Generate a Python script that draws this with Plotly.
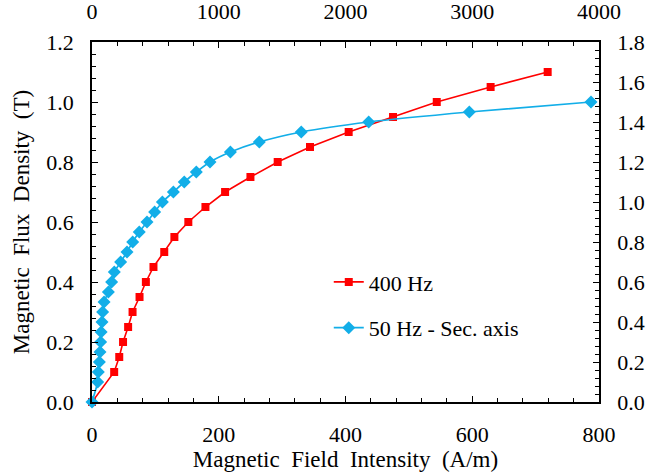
import plotly.graph_objects as go

# 400 Hz magnetisation curve (primary axes)
h_400 = [0, 35, 43, 49, 57, 64, 75, 85, 97, 114, 130, 152, 179, 210, 250, 293,
         344, 405, 475, 544, 629, 719]
b_400 = [0.0, 0.10, 0.15, 0.20, 0.25, 0.30, 0.35, 0.40, 0.45, 0.50, 0.55, 0.60,
         0.65, 0.70, 0.75, 0.80, 0.85, 0.90, 0.95, 1.00, 1.05, 1.10]

# 50 Hz magnetisation curve (secondary axes)
h_50 = [0, 45, 50, 58, 63, 68, 72, 79, 84, 95, 129, 155, 176, 226, 276, 321, 373,
        434, 494, 555, 642, 728, 823, 931, 1092, 1320, 1651, 2183, 2977, 3937]
b_50 = [0.0, 0.10, 0.15, 0.20, 0.25, 0.30, 0.35, 0.40, 0.45, 0.50, 0.55, 0.60,
        0.65, 0.70, 0.75, 0.80, 0.85, 0.90, 0.95, 1.00, 1.05, 1.10, 1.15, 1.20,
        1.25, 1.30, 1.35, 1.40, 1.45, 1.50]

FONT = "Liberation Serif, Times New Roman, serif"
RED = "#ff0000"
BLUE = "#12aee8"
SP = " \u00a0"  # wide word gap used in the axis titles

fig = go.Figure()
fig.add_trace(go.Scatter(
    x=h_400, y=b_400, name="400 Hz", mode="lines+markers",
    line=dict(color=RED, width=1.6),
    marker=dict(symbol="square", size=8, color=RED),
    cliponaxis=False, legend="legend",
))
fig.add_trace(go.Scatter(
    x=h_50, y=b_50, name="50 Hz - Sec. axis", mode="lines+markers",
    xaxis="x2", yaxis="y2",
    line=dict(color=BLUE, width=1.7, shape="spline", smoothing=0.6),
    marker=dict(symbol="diamond", size=10, color=BLUE),
    cliponaxis=False, legend="legend2",
))


def axis_style(minor_dtick):
    return dict(
        showline=True, linecolor="black", linewidth=1.5,
        showgrid=False, zeroline=False, automargin=False,
        ticks="inside", ticklen=6, tickwidth=1.3, tickcolor="black",
        minor=dict(ticks="inside", ticklen=4, tickwidth=1, tickcolor="black",
                   dtick=minor_dtick, showgrid=False),
        tickfont=dict(family=FONT, size=22, color="black"),
        ticklabelstandoff=12,
    )


fig.update_layout(
    width=667, height=475,
    margin=dict(l=92, r=68, t=42, b=73),
    paper_bgcolor="white", plot_bgcolor="white",
    font=dict(family=FONT, size=22, color="black"),
    xaxis=dict(range=[0, 800], dtick=200, tick0=0,
               title=dict(text=SP.join(["Magnetic", "Field", "Intensity", "(A/m)"]),
                          standoff=2, font=dict(family=FONT, size=23)),
               **axis_style(40)),
    yaxis=dict(range=[0, 1.2], dtick=0.2, tick0=0, tickformat=".1f",
               title=dict(text=SP.join(["Magnetic", "Flux", "Density", "(T)"]),
                          standoff=10, font=dict(family=FONT, size=23)),
               **axis_style(0.04)),
    xaxis2=dict(range=[0, 4000], dtick=1000, tick0=0, side="top",
                overlaying="x", anchor="y", **axis_style(200)),
    yaxis2=dict(range=[0, 1.8], dtick=0.2, tick0=0, tickformat=".1f",
                side="right", overlaying="y", anchor="x", **axis_style(0.04)),
    legend=dict(x=0.467, y=0.333, xanchor="left", yanchor="middle",
                bgcolor="rgba(0,0,0,0)", font=dict(family=FONT, size=22)),
    legend2=dict(x=0.467, y=0.206, xanchor="left", yanchor="middle",
                 bgcolor="rgba(0,0,0,0)", font=dict(family=FONT, size=22)),
    showlegend=True,
)

fig.write_html("out.html")
